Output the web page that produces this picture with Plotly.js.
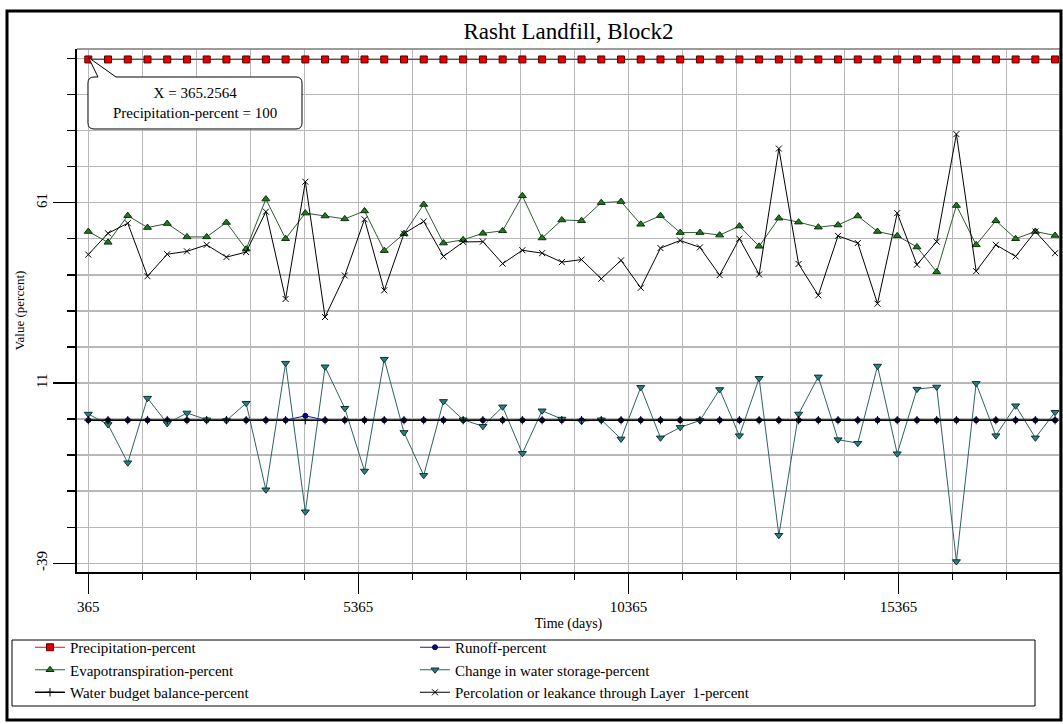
<!DOCTYPE html>
<html>
<head>
<meta charset="utf-8">
<script src="https://cdn.plot.ly/plotly-3.0.1.min.js"></script>
<style>html,body{margin:0;padding:0;background:#fff;}#chart{width:1063px;height:724px;}</style>
</head>
<body>
<div id="chart"></div>
<script>
// Time of each yearly output (days)
const timeDays = [365.3,730.5,1095.8,1461.0,1826.3,2191.5,2556.8,2922.1,3287.3,3652.6,
  4017.8,4383.1,4748.3,5113.6,5478.8,5844.1,6209.4,6574.6,6939.9,7305.1,
  7670.4,8035.6,8400.9,8766.2,9131.4,9496.7,9861.9,10227.2,10592.4,10957.7,
  11322.9,11688.2,12053.5,12418.7,12784.0,13149.2,13514.5,13879.7,14245.0,14610.3,
  14975.5,15340.8,15706.0,16071.3,16436.5,16801.8,17167.1,17532.3,17897.6,18262.8];

const precipitation = [100,100,100,100,100,100,100,100,100,100,
  100,100,100,100,100,100,100,100,100,100,
  100,100,100,100,100,100,100,100,100,100,
  100,100,100,100,100,100,100,100,100,100,
  100,100,100,100,100,100,100,100,100,100];

const runoff = [0,0,0,0,0,0,0,0,0,0,
  0,1.2,0,0,0,0,0,0,0,0,
  0,0,0,0,0,0,0,0,0,0,
  0,0,0,0,0,0,0,0,0,0,
  0,0,0,0,0,0,0,0,0,0];

const evapotranspiration = [52.3,49.3,56.7,53.4,54.5,50.8,50.8,54.8,47.4,61.3,
  50.3,57.4,56.6,55.8,58.0,47.0,51.7,59.8,49.1,50.0,
  51.8,52.5,62.2,50.5,55.5,55.3,60.3,60.6,54.3,56.7,
  52.0,52.0,51.3,53.8,48.2,56.0,54.9,53.5,54.1,56.6,
  52.3,51.1,48.0,41.1,59.5,48.6,55.3,50.3,52.3,51.2];

const changeStorage = [1.7,-1.2,-11.8,6.1,-0.9,2.0,0.1,-0.1,4.7,-19.3,
  15.8,-25.4,14.8,3.3,-14.1,16.9,-3.4,-15.3,5.2,0.1,
  -1.7,3.7,-9.2,2.6,0.3,-0.3,0.1,-5.2,9.1,-4.9,
  -2.0,-0.1,8.5,-4.3,11.6,-31.9,1.7,12.0,-5.4,-6.4,
  15.0,-9.3,8.6,9.2,-39.2,10.2,-4.3,4.0,-4.9,2.2];

const waterBudget = [0,0,0,0,0,0,0,0,0,0,
  0,0,0,0,0,0,0,0,0,0,
  0,0,0,0,0,0,0,0,0,0,
  0,0,0,0,0,0,0,0,0,0,
  0,0,0,0,0,0,0,0,0,0];

const percolation = [45.9,51.8,54.6,39.9,46.0,46.8,48.6,45.2,46.6,57.8,
  33.6,66.1,28.6,40.1,55.7,36.0,51.7,55.1,45.4,49.4,
  49.5,43.4,47.1,46.3,43.8,44.5,39.2,44.3,36.7,47.7,
  49.8,47.9,40.2,50.3,40.4,75.3,43.3,34.6,51.1,49.1,
  32.3,57.4,43.1,49.5,79.3,41.3,48.6,45.4,52.3,46.3];

const xTickVals = [365, 5365, 10365, 15365];
const xTickText = ["365", "5365", "10365", "15365"];
const yTickVals = [-39.7, 10.3, 60.3];
const yTickText = ["-39", "11", "61"];

const seriesNames = ["Precipitation-percent", "Runoff-percent", "Evapotranspiration-percent",
  "Change in water storage-percent", "Water budget balance-percent",
  "Percolation or leakance through Layer  1-percent"];

const calloutText = "X = 365.2564<br>Precipitation-percent = 100";

// ---- layout geometry helpers (pixel -> paper) ----
const W = 1063, H = 724;
const M = {l: 77, r: 3, t: 49, b: 152};
const PW = W - M.l - M.r, PH = H - M.t - M.b;
const px = v => (v - M.l) / PW;
const py = v => (H - M.b - v) / PH;
function path(cmds) {
  return cmds.map(c => {
    if (c[0] === 'Z') return 'Z';
    const pts = [];
    for (let i = 1; i < c.length; i += 2) pts.push(px(c[i]).toFixed(5) + ',' + py(c[i+1]).toFixed(5));
    return c[0] + pts.join(' ');
  }).join(' ');
}

const serif = "Liberation Serif, Times New Roman, serif";

const traces = [
  {name: seriesNames[0], x: timeDays, y: precipitation, mode: 'lines+markers',
   line: {color: '#ff0000', width: 1},
   marker: {symbol: 'square', size: 7, color: '#e00000', line: {color: '#5a0000', width: 1}}},
  {name: seriesNames[1], x: timeDays, y: runoff, mode: 'lines+markers',
   line: {color: '#1a1aa0', width: 1},
   marker: {symbol: 'circle', size: 5, color: '#0a0a80', line: {color: '#000040', width: 1}}},
  {name: seriesNames[2], x: timeDays, y: evapotranspiration, mode: 'lines+markers',
   line: {color: '#2f5a2f', width: 1},
   marker: {symbol: 'triangle-up', size: 7, color: '#1f7a1f', line: {color: '#0a300a', width: 1}}},
  {name: seriesNames[3], x: timeDays, y: changeStorage, mode: 'lines+markers',
   line: {color: '#2f6262', width: 1},
   marker: {symbol: 'triangle-down', size: 7, color: '#2a8080', line: {color: '#0f3030', width: 1}}},
  {name: seriesNames[4], x: timeDays, y: waterBudget, mode: 'lines+markers',
   line: {color: '#000000', width: 1.5},
   marker: {symbol: 'cross-thin', size: 6, color: '#000', line: {color: '#000000', width: 1}}},
  {name: seriesNames[5], x: timeDays, y: percolation, mode: 'lines+markers',
   line: {color: '#000000', width: 1},
   marker: {symbol: 'x-thin', size: 6, color: '#000', line: {color: '#000000', width: 1}}}
];

const gridColor = '#b8b8b8';

const layout = {
  width: W, height: H,
  margin: M,
  paper_bgcolor: '#ffffff', plot_bgcolor: '#ffffff',
  font: {family: serif, size: 15, color: '#000'},
  title: {text: 'Rasht Landfill, Block2', font: {family: serif, size: 23, color: '#000'},
          x: 0.5, xref: 'paper', xanchor: 'center', y: 1 - 31 / H, yref: 'container', yanchor: 'middle'},
  showlegend: true,
  legend: {orientation: 'h', x: px(30), xanchor: 'left', y: py(631), yanchor: 'top',
           entrywidthmode: 'pixels', entrywidth: 340, bgcolor: 'rgba(0,0,0,0)', borderwidth: 0,
           font: {family: serif, size: 15, color: '#000'}, traceorder: 'normal'},
  xaxis: {range: [156, 18354], tickmode: 'array', tickvals: xTickVals, ticktext: xTickText,
          ticks: 'outside', ticklen: 20, tickwidth: 1.5, tickcolor: '#000',
          showline: true, linecolor: '#000', linewidth: 2, zeroline: false,
          showgrid: true, gridcolor: gridColor, gridwidth: 1.5,
          tickfont: {family: serif, size: 15, color: '#000'},
          minor: {tick0: 365, dtick: 1000, ticks: 'outside', ticklen: 6, tickwidth: 1.5, tickcolor: '#000',
                  showgrid: true, gridcolor: gridColor, gridwidth: 1.5},
          title: {text: 'Time (days)', font: {family: serif, size: 14, color: '#000'}, standoff: 4},
          automargin: false, fixedrange: true},
  yaxis: {range: [-42.1, 102.9], tickmode: 'array', tickvals: yTickVals, ticktext: yTickText,
          ticks: 'outside', ticklen: 22, tickwidth: 1.5, tickcolor: '#000', tickangle: -90,
          showline: true, linecolor: '#000', linewidth: 2, zeroline: false,
          showgrid: true, gridcolor: gridColor, gridwidth: 1.5,
          tickfont: {family: serif, size: 15, color: '#000'},
          minor: {tick0: 0.3, dtick: 10, ticks: 'outside', ticklen: 8, tickwidth: 1.5, tickcolor: '#000',
                  showgrid: true, gridcolor: gridColor, gridwidth: 1.5},
          title: {text: 'Value (percent)', font: {family: serif, size: 13, color: '#000'}, standoff: 6},
          automargin: false, fixedrange: true},
  shapes: [
    // plot frame top/right
    {type: 'line', xref: 'paper', yref: 'paper', x0: 0, x1: 1, y0: 1, y1: 1, line: {color: '#7a7a7a', width: 1.5}},
    {type: 'line', xref: 'paper', yref: 'paper', x0: 1, x1: 1, y0: 0, y1: 1, line: {color: '#9a9a9a', width: 1.5}},
    // legend box
    {type: 'rect', xref: 'paper', yref: 'paper', x0: px(12), x1: px(1035), y0: py(640), y1: py(706),
     line: {color: '#000', width: 1}, fillcolor: 'rgba(0,0,0,0)'},
    // outer frame
    {type: 'rect', xref: 'paper', yref: 'paper', x0: px(7), x1: px(1061), y0: py(11), y1: py(720),
     line: {color: '#000', width: 3}, fillcolor: 'rgba(0,0,0,0)'},
    // callout bubble
    {type: 'path', xref: 'paper', yref: 'paper', fillcolor: '#ffffff', line: {color: '#000', width: 1},
     path: path([['M',94,77],['L',98,77],['L',88.5,57.5],['L',116,77],['L',296,77],['Q',302,77,302,83],
                 ['L',302,123],['Q',302,129,296,129],['L',94,129],['Q',88,129,88,123],['L',88,83],
                 ['Q',88,77,94,77],['Z']])}
  ],
  annotations: [
    {xref: 'paper', yref: 'paper', x: px(195), y: py(103), xanchor: 'center', yanchor: 'middle',
     text: calloutText, showarrow: false, align: 'center',
     font: {family: serif, size: 15, color: '#000'}}
  ]
};

Plotly.newPlot('chart', traces, layout, {displayModeBar: false, staticPlot: true});
</script>
</body>
</html>
